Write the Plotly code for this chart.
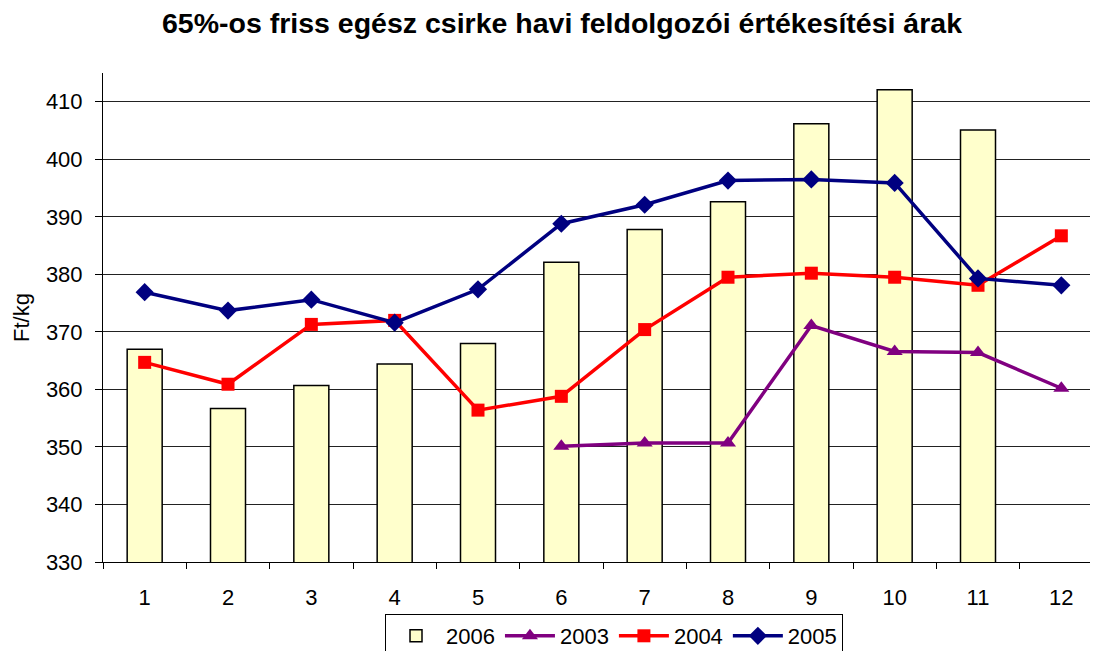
import plotly.graph_objects as go

months = ["1", "2", "3", "4", "5", "6", "7", "8", "9", "10", "11", "12"]
y2006 = [367.0, 356.7, 360.7, 364.4, 368.0, 382.1, 387.8, 392.6, 406.2, 412.1, 405.1, None]
y2003 = [None, None, None, None, None, 350.1, 350.7, 350.7, 371.1, 366.6, 366.4, 360.2]
y2004 = [364.7, 360.9, 371.3, 372.0, 356.4, 358.8, 370.4, 379.5, 380.2, 379.5, 378.1, 386.7]
y2005 = [376.9, 373.7, 375.6, 371.6, 377.4, 388.8, 392.1, 396.3, 396.5, 395.9, 379.3, 378.1]
y_ticks = [330, 340, 350, 360, 370, 380, 390, 400, 410]

# page has an 8px body margin; figure sized to fit the 1098x651 window
W, H, OFF = 1090, 643, 8

fig = go.Figure()
fig.add_trace(go.Bar(x=months, y=y2006, name="2006", width=0.42,
                     marker=dict(color="#FFFFCC", line=dict(color="#000000", width=1.5))))
fig.add_trace(go.Scatter(x=months, y=y2003, name="2003", mode="lines+markers",
                         line=dict(color="#800080", width=3.5),
                         marker=dict(symbol="triangle-up", size=14, color="#800080")))
fig.add_trace(go.Scatter(x=months, y=y2004, name="2004", mode="lines+markers",
                         line=dict(color="#FF0000", width=3.5),
                         marker=dict(symbol="square", size=13, color="#FF0000")))
fig.add_trace(go.Scatter(x=months, y=y2005, name="2005", mode="lines+markers",
                         line=dict(color="#000080", width=3.5),
                         marker=dict(symbol="diamond", size=14, color="#000080")))

fig.update_layout(
    width=W, height=H,
    margin=dict(l=103 - OFF, r=0, t=73 - OFF, b=89),
    plot_bgcolor="white", paper_bgcolor="white",
    font=dict(family="Arial, Liberation Sans, sans-serif", size=22, color="#000000"),
    title=dict(text="<b>65%-os friss egész csirke havi feldolgozói értékesítési árak</b>",
               x=(562 - OFF) / W, xref="container", xanchor="center",
               y=1 - (23 - OFF) / H, yref="container", yanchor="middle",
               font=dict(size=28.5, color="#000000")),
    showlegend=True,
    legend=dict(orientation="h", x=(614 - OFF) / W, xanchor="center", xref="container",
                y=1 - (614 - OFF) / H, yref="container", yanchor="top",
                bordercolor="#000000", borderwidth=1, itemwidth=50,
                font=dict(size=22), traceorder="normal", tracegroupgap=0),
    bargap=0.58,
)
fig.update_xaxes(range=[-0.5, 11.44], showline=True, linecolor="#000000", linewidth=1,
                 ticks="outside", tickson="boundaries", ticklen=6, tickcolor="#000000",
                 showgrid=False, tickfont=dict(size=22), ticklabelstandoff=16)
fig.update_yaxes(range=[330, 415], tickvals=y_ticks, showline=True, linecolor="#000000",
                 linewidth=1, ticks="outside", ticklen=7, tickcolor="#000000",
                 showgrid=True, gridcolor="#222222", gridwidth=1, zeroline=False,
                 title=dict(text="Ft/kg", font=dict(size=22), standoff=10),
                 tickfont=dict(size=22), ticklabelstandoff=8)

fig.write_html("out.html")
